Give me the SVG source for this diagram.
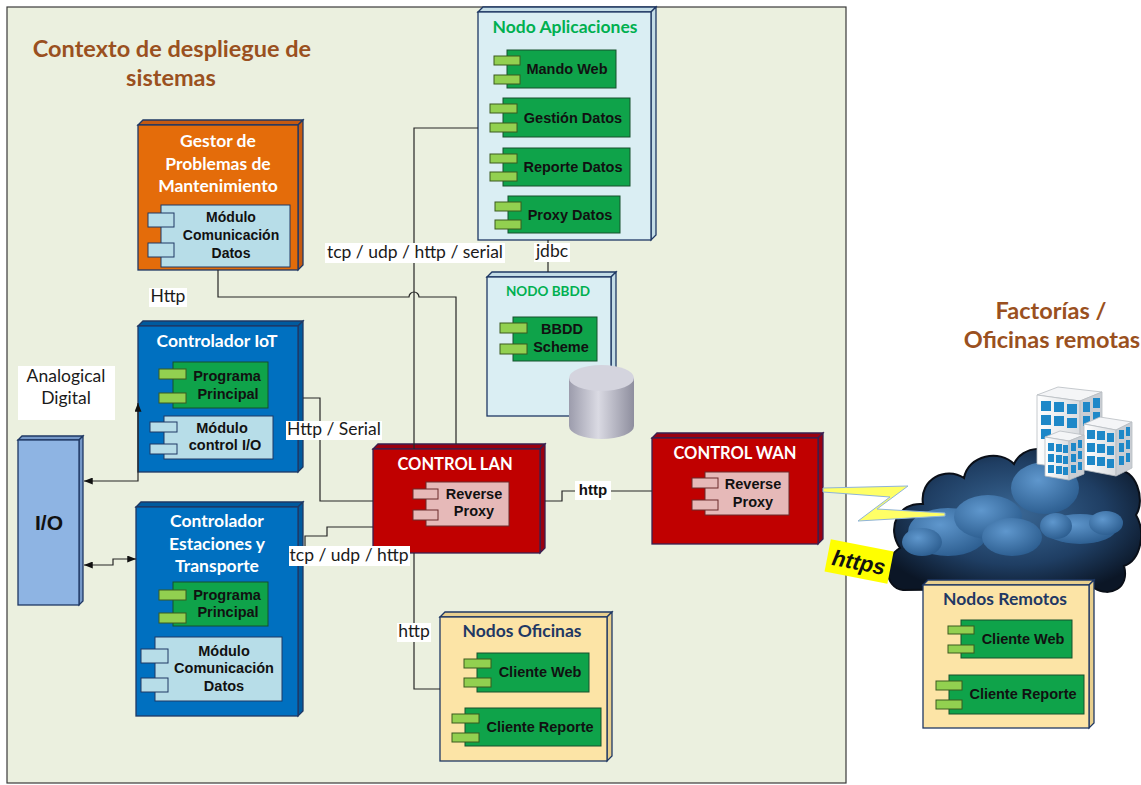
<svg xmlns="http://www.w3.org/2000/svg" width="1141" height="785" viewBox="0 0 1141 785">
  <style>
    .panel { fill: #EBF0DF; stroke: #3A3A3A; stroke-width: 1.2; }
    .title { font-family: Lato, "Open Sans", sans-serif; font-weight: bold; font-size: 23.5px; fill: #9A5020; text-anchor: middle; }
    .ntitle { font-family: Lato, "Open Sans", sans-serif; font-weight: bold; font-size: 17.5px; text-anchor: middle; }
    .white { fill: #FFFFFF; }
    .green-t { fill: #00B050; }
    .navy-t { fill: #1F3864; }
    .ctext { font-family: "Liberation Sans", Arial, sans-serif; font-weight: bold; font-size: 14.5px; fill: #111111; text-anchor: middle; }
    .lbl { font-family: Lato, "Open Sans", sans-serif; font-size: 17.5px; fill: #1A1A1A; text-anchor: middle; }
    .lblbg { fill: #FFFFFF; }
    .edge { fill: none; stroke: #262626; stroke-width: 1.2; }
    .comp { fill: #0FA34A; stroke: #17502C; stroke-width: 1; }
    .port { fill: #92D050; stroke: #3A5A1E; stroke-width: 1; }
    .lcomp { fill: #B7DDE8; stroke: #1F3864; stroke-width: 1; }
    .pcomp { fill: #E6B9B8; stroke: #6B2A2A; stroke-width: 1; }
    .orange-f { fill: #E46C0A; stroke: #1F3864; stroke-width: 1.3; }
    .orange-s { fill: #C55A11; stroke: #1F3864; stroke-width: 1.3; }
    .blue-f { fill: #0070C0; stroke: #1F3864; stroke-width: 1.3; }
    .blue-s { fill: #005A9E; stroke: #1F3864; stroke-width: 1.3; }
    .red-f { fill: #C00000; stroke: #3A1F4F; stroke-width: 1.3; }
    .red-s { fill: #9A0010; stroke: #3A1F4F; stroke-width: 1.3; }
    .lb-f { fill: #DAEEF3; stroke: #1F3864; stroke-width: 1.3; }
    .lb-s { fill: #C3DCE6; stroke: #1F3864; stroke-width: 1.3; }
    .io-f { fill: #8EB4E3; stroke: #1F3864; stroke-width: 1.3; }
    .io-s { fill: #7598C8; stroke: #1F3864; stroke-width: 1.3; }
    .tan-f { fill: #FCE4A6; stroke: #1F3864; stroke-width: 1.3; }
    .tan-s { fill: #E8CF8E; stroke: #1F3864; stroke-width: 1.3; }
    .win { fill: #1E88C8; }
  </style>
  <defs>
    <marker id="arrow" viewBox="0 0 10 8" refX="10" refY="4" markerWidth="9" markerHeight="7" markerUnits="userSpaceOnUse" orient="auto-start-reverse">
      <path d="M0,0 L10,4 L0,8 z" fill="#111111"/>
    </marker>
    <linearGradient id="cyl" x1="0" y1="0" x2="1" y2="0">
      <stop offset="0" stop-color="#9C9CAC"/>
      <stop offset="0.45" stop-color="#DADAE3"/>
      <stop offset="1" stop-color="#8E8E9E"/>
    </linearGradient>
    <radialGradient id="cloudG" cx="0.5" cy="0.45" r="0.6">
      <stop offset="0" stop-color="#3A6896"/>
      <stop offset="0.6" stop-color="#1F3E63"/>
      <stop offset="1" stop-color="#0B1626"/>
    </radialGradient>
    <radialGradient id="puffG" cx="0.4" cy="0.35" r="0.7">
      <stop offset="0" stop-color="#5F97CD"/>
      <stop offset="1" stop-color="#2B5C8E"/>
    </radialGradient>
    <linearGradient id="bldF" x1="0" y1="0" x2="1" y2="0">
      <stop offset="0" stop-color="#FFFFFF"/>
      <stop offset="1" stop-color="#D9DCE0"/>
    </linearGradient>
  </defs>

  <!-- deployment context panel -->
  <rect class="panel" x="7" y="7" width="839" height="776"/>

  <g id="title">
    <text class="title" x="172" y="57">Contexto de despliegue de</text>
    <text class="title" x="171" y="86">sistemas</text>
  </g>

  <g id="remote-title">
    <text class="title" x="1051" y="319">Factorías /</text>
    <text class="title" x="1052" y="348">Oficinas remotas</text>
  </g>

  <!-- Gestor de Problemas de Mantenimiento -->
  <g id="gestor">
    <polygon class="orange-s" points="138,125 143,120 303,120 298,125"/>
    <polygon class="orange-s" points="298,125 303,120 303,265 298,270"/>
    <rect class="orange-f" x="138" y="125" width="160" height="145"/>
    <text class="ntitle white" x="218" y="147">Gestor de</text>
    <text class="ntitle white" x="218" y="170">Problemas de</text>
    <text class="ntitle white" x="218" y="192">Mantenimiento</text>
    <rect class="lcomp" x="161" y="205" width="129" height="62"/>
    <rect class="lcomp" x="148" y="213" width="26" height="14"/>
    <rect class="lcomp" x="148" y="243" width="26" height="14"/>
    <text class="ctext" x="231" y="222" style="font-size:14px">Módulo</text>
    <text class="ctext" x="231" y="240" style="font-size:14px">Comunicación</text>
    <text class="ctext" x="231" y="258" style="font-size:14px">Datos</text>
  </g>

  <!-- Nodo Aplicaciones -->
  <g id="nodo-aplicaciones">
    <polygon class="lb-s" points="478,12 483,7 656,7 651,12"/>
    <polygon class="lb-s" points="651,12 656,7 656,235 651,240"/>
    <rect class="lb-f" x="478" y="12" width="173" height="228"/>
    <text class="ntitle green-t" x="565" y="33">Nodo Aplicaciones</text>
    <rect class="comp" x="507" y="50" width="109" height="38"/>
    <rect class="port" x="494" y="56" width="26" height="9"/>
    <rect class="port" x="494" y="75" width="26" height="9"/>
    <text class="ctext" x="567" y="74">Mando Web</text>
    <rect class="comp" x="503" y="98" width="127" height="39"/>
    <rect class="port" x="490" y="104" width="27" height="9"/>
    <rect class="port" x="490" y="123" width="27" height="9"/>
    <text class="ctext" x="573" y="123">Gestión Datos</text>
    <rect class="comp" x="503" y="148" width="127" height="38"/>
    <rect class="port" x="490" y="154" width="27" height="9"/>
    <rect class="port" x="490" y="172" width="27" height="9"/>
    <text class="ctext" x="573" y="172">Reporte Datos</text>
    <rect class="comp" x="508" y="196" width="112" height="37"/>
    <rect class="port" x="495" y="202" width="26" height="9"/>
    <rect class="port" x="495" y="220" width="26" height="9"/>
    <text class="ctext" x="570" y="220">Proxy Datos</text>
  </g>

  <!-- NODO BBDD -->
  <g id="nodo-bbdd">
    <polygon class="lb-s" points="487,277 492,272 616,272 611,277"/>
    <polygon class="lb-s" points="611,277 616,272 616,411 611,416"/>
    <rect class="lb-f" x="487" y="277" width="124" height="139"/>
    <text class="ntitle green-t" x="548" y="296" style="font-size:13.5px">NODO BBDD</text>
    <rect class="comp" x="513" y="317" width="84" height="44"/>
    <rect class="port" x="500" y="323" width="27" height="10"/>
    <rect class="port" x="500" y="344" width="27" height="10"/>
    <text class="ctext" x="562" y="334">BBDD</text>
    <text class="ctext" x="561" y="352">Scheme</text>
    <!-- database cylinder -->
    <path d="M569,378 V426 A32.5,13 0 0 0 634,426 V378 Z" fill="url(#cyl)"/>
    <ellipse cx="601.5" cy="378" rx="32.5" ry="13" fill="#D4D4DE"/>
  </g>

  <!-- Controlador IoT -->
  <g id="controlador-iot">
    <polygon class="blue-s" points="138,326 143,321 303,321 298,326"/>
    <polygon class="blue-s" points="298,326 303,321 303,467 298,472"/>
    <rect class="blue-f" x="138" y="326" width="160" height="146"/>
    <text class="ntitle white" x="217" y="347">Controlador IoT</text>
    <rect class="comp" x="173" y="362" width="95" height="46"/>
    <rect class="port" x="159" y="369" width="27" height="10"/>
    <rect class="port" x="159" y="393" width="27" height="10"/>
    <text class="ctext" x="227" y="381">Programa</text>
    <text class="ctext" x="228" y="399">Principal</text>
    <rect class="lcomp" x="164" y="416" width="109" height="43"/>
    <rect class="lcomp" x="150" y="422" width="27" height="10"/>
    <rect class="lcomp" x="150" y="444" width="27" height="10"/>
    <text class="ctext" x="222" y="433">Módulo</text>
    <text class="ctext" x="225" y="450">control I/O</text>
  </g>

  <!-- I/O -->
  <g id="io">
    <polygon class="io-s" points="18,440 22,436 83,436 79,440"/>
    <polygon class="io-s" points="79,440 83,436 83,601 79,605"/>
    <rect class="io-f" x="18" y="440" width="61" height="165"/>
    <text x="49" y="530" font-family="'Liberation Sans', Arial, sans-serif" font-weight="bold" font-size="21" fill="#111111" text-anchor="middle">I/O</text>
  </g>

  <!-- Controlador Estaciones y Transporte -->
  <g id="controlador-estaciones">
    <polygon class="blue-s" points="136,507 141,502 303,502 298,507"/>
    <polygon class="blue-s" points="298,507 303,502 303,711 298,716"/>
    <rect class="blue-f" x="136" y="507" width="162" height="209"/>
    <text class="ntitle white" x="217" y="527">Controlador</text>
    <text class="ntitle white" x="217" y="550">Estaciones y</text>
    <text class="ntitle white" x="217" y="572">Transporte</text>
    <rect class="comp" x="173" y="582" width="95" height="44"/>
    <rect class="port" x="159" y="590" width="27" height="10"/>
    <rect class="port" x="159" y="613" width="27" height="10"/>
    <text class="ctext" x="227" y="600">Programa</text>
    <text class="ctext" x="228" y="617">Principal</text>
    <rect class="lcomp" x="155" y="637" width="127" height="64"/>
    <rect class="lcomp" x="141" y="649" width="27" height="14"/>
    <rect class="lcomp" x="141" y="678" width="27" height="14"/>
    <text class="ctext" x="224" y="656" style="font-size:14.5px">Módulo</text>
    <text class="ctext" x="224" y="673" style="font-size:14.5px">Comunicación</text>
    <text class="ctext" x="224" y="691" style="font-size:14.5px">Datos</text>
  </g>

  <!-- CONTROL LAN -->
  <g id="control-lan">
    <polygon class="red-s" points="373,449 378,444 545,444 540,449"/>
    <polygon class="red-s" points="540,449 545,444 545,548 540,553"/>
    <rect class="red-f" x="373" y="449" width="167" height="104"/>
    <text class="ntitle white" x="455" y="470" style="font-size:16.5px">CONTROL LAN</text>
    <rect class="pcomp" x="426" y="482" width="83" height="44"/>
    <rect class="pcomp" x="413" y="489" width="25" height="10"/>
    <rect class="pcomp" x="413" y="510" width="25" height="10"/>
    <text class="ctext" x="474" y="499">Reverse</text>
    <text class="ctext" x="474" y="516">Proxy</text>
  </g>

  <!-- CONTROL WAN -->
  <g id="control-wan">
    <polygon class="red-s" points="652,438 657,433 823,433 818,438"/>
    <polygon class="red-s" points="818,438 823,433 823,539 818,544"/>
    <rect class="red-f" x="652" y="438" width="166" height="106"/>
    <text class="ntitle white" x="735" y="459" style="font-size:16.5px">CONTROL WAN</text>
    <rect class="pcomp" x="705" y="472" width="84" height="43"/>
    <rect class="pcomp" x="692" y="478" width="26" height="10"/>
    <rect class="pcomp" x="692" y="500" width="26" height="10"/>
    <text class="ctext" x="753" y="489">Reverse</text>
    <text class="ctext" x="753" y="507">Proxy</text>
  </g>

  <!-- Nodos Oficinas -->
  <g id="nodos-oficinas">
    <polygon class="tan-s" points="440,617 445,612 612,612 607,617"/>
    <polygon class="tan-s" points="607,617 612,612 612,756 607,761"/>
    <rect class="tan-f" x="440" y="617" width="167" height="144"/>
    <text class="ntitle navy-t" x="522" y="637">Nodos Oficinas</text>
    <rect class="comp" x="477" y="653" width="112" height="39"/>
    <rect class="port" x="464" y="659" width="27" height="9"/>
    <rect class="port" x="464" y="678" width="27" height="9"/>
    <text class="ctext" x="540" y="677">Cliente Web</text>
    <rect class="comp" x="465" y="708" width="136" height="38"/>
    <rect class="port" x="452" y="714" width="27" height="9"/>
    <rect class="port" x="452" y="733" width="27" height="9"/>
    <text class="ctext" x="540" y="732">Cliente Reporte</text>
  </g>

  <!-- cloud with remote buildings -->
  <g id="nube">
    <path d="M903,590 C884,588 882,558 900,548 C886,528 898,502 923,504 C919,479 946,466 964,478 C968,455 1000,449 1014,464 C1022,445 1052,444 1062,460 C1078,446 1110,450 1116,470 C1136,468 1146,500 1136,515 C1146,532 1141,560 1124,566 C1130,588 1110,598 1094,588 Z" fill="url(#cloudG)" stroke="#0A0F18" stroke-width="2"/>
    <g fill="url(#puffG)">
      <ellipse cx="1045" cy="488" rx="34" ry="26"/>
      <ellipse cx="948" cy="532" rx="40" ry="24"/>
      <ellipse cx="988" cy="517" rx="34" ry="22"/>
      <ellipse cx="1012" cy="537" rx="30" ry="19"/>
      <ellipse cx="922" cy="542" rx="20" ry="14"/>
      <ellipse cx="1080" cy="529" rx="36" ry="15"/>
      <ellipse cx="1056" cy="526" rx="16" ry="13"/>
      <ellipse cx="1106" cy="523" rx="17" ry="12"/>
    </g>
    <!-- buildings -->
    <g>
      <polygon points="1037,395 1058,387 1102,392 1080,401" fill="#F4F5F7" stroke="#B8BCC2" stroke-width="0.8"/>
      <polygon points="1037,395 1080,401 1080,470 1037,464" fill="url(#bldF)" stroke="#B8BCC2" stroke-width="0.8"/>
      <polygon points="1080,401 1102,392 1102,460 1080,470" fill="#C9CDD3" stroke="#B8BCC2" stroke-width="0.8"/>
      <g class="win">
        <rect x="1041" y="401" width="10" height="10"/><rect x="1054" y="402" width="10" height="10"/><rect x="1067" y="404" width="10" height="10"/>
        <rect x="1041" y="415" width="10" height="10"/><rect x="1054" y="416" width="10" height="10"/><rect x="1067" y="418" width="10" height="10"/>
        <rect x="1041" y="429" width="10" height="10"/>
        <rect x="1083" y="402" width="7" height="10"/><rect x="1093" y="398" width="7" height="10"/>
        <rect x="1083" y="416" width="7" height="10"/><rect x="1093" y="412" width="7" height="10"/>
      </g>
      <polygon points="1084,424 1100,417 1132,422 1116,430" fill="#F4F5F7" stroke="#B8BCC2" stroke-width="0.8"/>
      <polygon points="1084,424 1116,430 1116,476 1084,470" fill="url(#bldF)" stroke="#B8BCC2" stroke-width="0.8"/>
      <polygon points="1116,430 1132,422 1132,468 1116,476" fill="#C9CDD3" stroke="#B8BCC2" stroke-width="0.8"/>
      <g class="win">
        <rect x="1087" y="430" width="8" height="9"/><rect x="1097" y="431" width="8" height="9"/><rect x="1107" y="433" width="7" height="9"/>
        <rect x="1087" y="443" width="8" height="9"/><rect x="1097" y="444" width="8" height="9"/><rect x="1107" y="446" width="7" height="9"/>
        <rect x="1087" y="456" width="8" height="9"/><rect x="1097" y="457" width="8" height="9"/><rect x="1107" y="459" width="7" height="9"/>
        <rect x="1119" y="430" width="5" height="9"/><rect x="1126" y="427" width="4" height="9"/>
        <rect x="1119" y="443" width="5" height="9"/><rect x="1126" y="440" width="4" height="9"/>
        <rect x="1119" y="456" width="5" height="9"/><rect x="1126" y="453" width="4" height="9"/>
      </g>
      <polygon points="1045,437 1060,431 1084,435 1069,441" fill="#F4F5F7" stroke="#B8BCC2" stroke-width="0.8"/>
      <polygon points="1045,437 1069,441 1069,480 1045,476" fill="url(#bldF)" stroke="#B8BCC2" stroke-width="0.8"/>
      <polygon points="1069,441 1084,435 1084,474 1069,480" fill="#C9CDD3" stroke="#B8BCC2" stroke-width="0.8"/>
      <g class="win">
        <rect x="1048" y="443" width="6" height="8"/><rect x="1056" y="444" width="6" height="8"/><rect x="1063" y="445" width="5" height="8"/>
        <rect x="1048" y="454" width="6" height="8"/><rect x="1056" y="455" width="6" height="8"/><rect x="1063" y="456" width="5" height="8"/>
        <rect x="1048" y="465" width="6" height="8"/><rect x="1056" y="466" width="6" height="8"/><rect x="1063" y="467" width="5" height="8"/>
        <rect x="1071" y="443" width="5" height="8"/><rect x="1078" y="440" width="4" height="8"/>
        <rect x="1071" y="454" width="5" height="8"/><rect x="1078" y="451" width="4" height="8"/>
        <rect x="1071" y="465" width="5" height="8"/><rect x="1078" y="462" width="4" height="8"/>
      </g>
    </g>
  </g>

  <!-- Nodos Remotos -->
  <g id="nodos-remotos">
    <polygon class="tan-s" points="923,585 928,580 1094,580 1089,585"/>
    <polygon class="tan-s" points="1089,585 1094,580 1094,723 1089,728"/>
    <rect class="tan-f" x="923" y="585" width="166" height="143"/>
    <text class="ntitle navy-t" x="1005" y="605">Nodos Remotos</text>
    <rect class="comp" x="961" y="620" width="111" height="38"/>
    <rect class="port" x="948" y="626" width="26" height="8"/>
    <rect class="port" x="948" y="645" width="26" height="8"/>
    <text class="ctext" x="1023" y="644">Cliente Web</text>
    <rect class="comp" x="949" y="675" width="135" height="39"/>
    <rect class="port" x="936" y="681" width="26" height="9"/>
    <rect class="port" x="936" y="700" width="26" height="9"/>
    <text class="ctext" x="1023" y="699">Cliente Reporte</text>
  </g>

  <!-- connectors and their labels -->
  <g id="connectors">
    <path class="edge" d="M218,270 V297 H409 A5,5 0 0 1 419,297 H456 V444"/>
    <path class="edge" d="M478,128 H414 V449"/>
    <path class="edge" d="M414,553 V689 H440"/>
    <path class="edge" d="M303,398 H320 V501 H373"/>
    <path class="edge" d="M305,550 V536 H327 V527 H373"/>
    <path class="edge" d="M545,501 H562 V491 H652"/>
    <path class="edge" d="M548,240 V272"/>
    <path class="edge" d="M138,403 V481 H84" marker-start="url(#arrow)" marker-end="url(#arrow)"/>
    <path class="edge" d="M84,565 H113 V559 H136" marker-start="url(#arrow)" marker-end="url(#arrow)"/>
    <!-- wireless link to remote sites -->
    <polygon points="823,488 908,486 877,509 945,513 945,516 858,521 890,497 823,492" fill="#FFFF66" stroke="#8FB4D9" stroke-width="1"/>

    <rect class="lblbg" x="149" y="288" width="38" height="19"/>
    <text class="lbl" x="168" y="302">Http</text>
    <rect class="lblbg" x="325" y="243" width="180" height="20"/>
    <text class="lbl" x="415" y="258">tcp / udp / http / serial</text>
    <rect class="lblbg" x="534" y="243" width="36" height="19"/>
    <text class="lbl" x="552" y="257">jdbc</text>
    <rect class="lblbg" x="286" y="421" width="96" height="19"/>
    <text class="lbl" x="334" y="435">Http / Serial</text>
    <rect class="lblbg" x="289" y="546" width="121" height="20"/>
    <text class="lbl" x="349" y="561">tcp / udp / http</text>
    <rect class="lblbg" x="575" y="481" width="36" height="19"/>
    <text x="593" y="495" font-family="'Liberation Sans', Arial, sans-serif" font-weight="bold" font-size="15" fill="#111111" text-anchor="middle">http</text>
    <rect class="lblbg" x="397" y="623" width="34" height="19"/>
    <text class="lbl" x="414" y="637">http</text>
    <rect class="lblbg" x="18" y="366" width="97" height="54"/>
    <text class="lbl" x="66" y="382">Analogical</text>
    <text class="lbl" x="66" y="404">Digital</text>

    <g transform="translate(859,562) rotate(11)">
      <rect x="-32" y="-17" width="64" height="33" fill="#FFFF00"/>
      <text x="0" y="8" font-family="'Liberation Sans', Arial, sans-serif" font-weight="bold" font-style="italic" font-size="22" fill="#111111" text-anchor="middle">https</text>
    </g>
  </g>
</svg>
